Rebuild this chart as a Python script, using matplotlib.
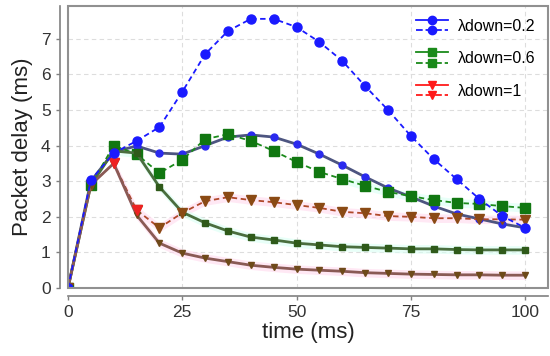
import matplotlib
matplotlib.use("Agg")
import matplotlib.pyplot as plt
from matplotlib.lines import Line2D
from matplotlib.legend_handler import HandlerBase
from matplotlib.patches import Rectangle

plt.rcParams['font.family'] = ['Liberation Sans', 'DejaVu Sans']

# time axis (ms)
t = [0, 5, 10, 15, 20, 25, 30, 35, 40, 45, 50, 55, 60, 65, 70, 75, 80, 85, 90, 95, 100]

# lambda_down = 0.2
d02_dash = [0, 3.03, 3.79, 4.13, 4.52, 5.51, 6.57, 7.22, 7.56, 7.56, 7.33, 6.91, 6.38, 5.67,
            5.0, 4.27, 3.62, 3.06, 2.50, 2.02, 1.69]
d02_solid = [0, 3.0, 3.82, 3.99, 3.79, 3.76, 4.0, 4.24, 4.3, 4.24, 4.04, 3.76, 3.45, 3.12,
             2.81, 2.56, 2.30, 2.08, 1.94, 1.80, 1.69]
# lambda_down = 0.6
d06_dash = [0, 2.89, 4.0, 3.76, 3.23, 3.6, 4.18, 4.32, 4.13, 3.85, 3.54, 3.26, 3.06, 2.87,
            2.70, 2.58, 2.47, 2.39, 2.36, 2.30, 2.25]
d06_solid = [0, 2.89, 3.85, 3.79, 2.84, 2.13, 1.83, 1.6, 1.43, 1.35, 1.26, 1.21, 1.16, 1.14,
             1.12, 1.10, 1.10, 1.08, 1.07, 1.07, 1.07]
# lambda_down = 1
d1_dash = [0, 2.9, 3.5, 2.19, 1.69, 2.11, 2.44, 2.55, 2.47, 2.41, 2.33, 2.25, 2.14, 2.1,
           2.02, 2.0, 1.96, 1.96, 1.93, 1.93, 1.92]
d1_solid = [0, 2.9, 3.5, 2.05, 1.26, 0.98, 0.84, 0.74, 0.64, 0.58, 0.53, 0.5, 0.47, 0.43,
            0.41, 0.39, 0.38, 0.37, 0.37, 0.36, 0.36]

labels = ["λdown=0.2", "λdown=0.6", "λdown=1"]


class HandlerPair(HandlerBase):
    # draws solid line on top and dashed line below
    def create_artists(self, legend, orig_handle, xdescent, ydescent, width, height, fontsize, trans):
        solid, dashed = orig_handle
        arts = []
        for h, yy in ((solid, height * 1.0), (dashed, height * 0.05)):
            ln = Line2D([-xdescent, width - xdescent], [yy - ydescent] * 2,
                        color=h.get_color(), linestyle=h.get_linestyle(), lw=h.get_linewidth(),
                        marker=h.get_marker(), markersize=h.get_markersize(),
                        markevery=[1], transform=trans)
            ln.set_xdata([-xdescent, (width - xdescent) / 2, width - xdescent])
            ln.set_ydata([yy - ydescent] * 3)
            arts.append(ln)
        return arts


fig = plt.figure(figsize=(5.5, 3.56), dpi=100)
ax = fig.add_axes([0.1236, 0.191, 0.8728, 0.792])

band = 0.12
ax.fill_between(t[2:], [v - band for v in d1_dash[2:]], [v + band for v in d1_dash[2:]],
                color="#ffd9ee", alpha=0.6, lw=0, zorder=1)
ax.fill_between(t[2:], [v - band for v in d1_solid[2:]], [v + band for v in d1_solid[2:]],
                color="#ffd9ee", alpha=0.6, lw=0, zorder=1)
ax.fill_between(t[2:], [v - band for v in d06_solid[2:]], [v + band for v in d06_solid[2:]],
                color="#d9fff4", alpha=0.6, lw=0, zorder=1)
ax.fill_between(t[12:], [v - band for v in d06_dash[12:]], [v + band for v in d06_dash[12:]],
                color="#d9fff4", alpha=0.6, lw=0, zorder=1)

ax.plot(t, d02_dash, ls=(0, (3, 2)), lw=1.3, color="#1a1aff", marker="o", ms=6.5, zorder=4)
ax.plot(t, d02_solid, ls="-", lw=2, color="#4d5580", marker="o", ms=5,
        mfc="#2a2aee", mec="#2a2aee", zorder=3)
ax.plot(t, d06_dash, ls=(0, (3, 2)), lw=1.3, color="#1a8a1a", marker="s", ms=6.5,
        mfc="#117711", mec="#117711", zorder=3)
ax.plot(t, d06_solid, ls="-", lw=2, color="#4a6e3e", marker="s", ms=5,
        mfc="#2f5a1a", mec="#2f5a1a", zorder=3)
ax.plot(t, d1_dash, ls=(0, (3, 2)), lw=1.3, color="#b0482a", marker="v", ms=6.5,
        mfc="#8a4a14", mec="#8a4a14", zorder=3)
ax.plot(t, d1_solid, ls="-", lw=2, color="#8a5a55", marker="v", ms=5,
        mfc="#6e4a1a", mec="#6e4a1a", zorder=3)
# red points near the peak
ax.plot(t[2:4], d1_dash[2:4], ls="none", marker="v", ms=6.5, color="#ee2222", zorder=3)

ax.set_xlim(0, 105)
ax.set_ylim(0, 7.92)
ax.set_xticks([0, 25, 50, 75, 100])
ax.set_yticks(range(0, 8))
ax.grid(True, color="#dddddd", ls=(0, (4, 3)), lw=0.8)
ax.set_axisbelow(True)

for s in ["top", "right"]:
    ax.spines[s].set_visible(False)
for s in ["left", "bottom"]:
    ax.spines[s].set_position(("outward", 6))
    ax.spines[s].set_color("#808080")
    ax.spines[s].set_linewidth(1.2)
ax.add_patch(Rectangle((0, 0), 1, 1, transform=ax.transAxes, fill=False,
                       ec="#909090", lw=1.5, clip_on=False, zorder=5))
ax.tick_params(colors="#808080", labelcolor="#333333", labelsize=12.5, length=3, width=1)

ax.set_xlabel("time (ms)", fontsize=16, color="#222222", labelpad=1)
ax.set_ylabel("Packet delay (ms)", fontsize=16, color="#222222", labelpad=6)

handles = []
for c, m in (("#1a1aff", "o"), ("#1a8a1a", "s"), ("#ff1a1a", "v")):
    handles.append((Line2D([], [], color=c, ls="-", lw=1.3, marker=m, ms=6),
                    Line2D([], [], color=c, ls=(0, (3, 2)), lw=1.3, marker=m, ms=6)))
ax.legend(handles, labels, handler_map={tuple: HandlerPair()}, loc="upper right",
          frameon=False, fontsize=11.5, handlelength=2.0, labelspacing=1.1,
          handletextpad=0.6, borderaxespad=0.4)

fig.savefig("out.png", dpi=100)
